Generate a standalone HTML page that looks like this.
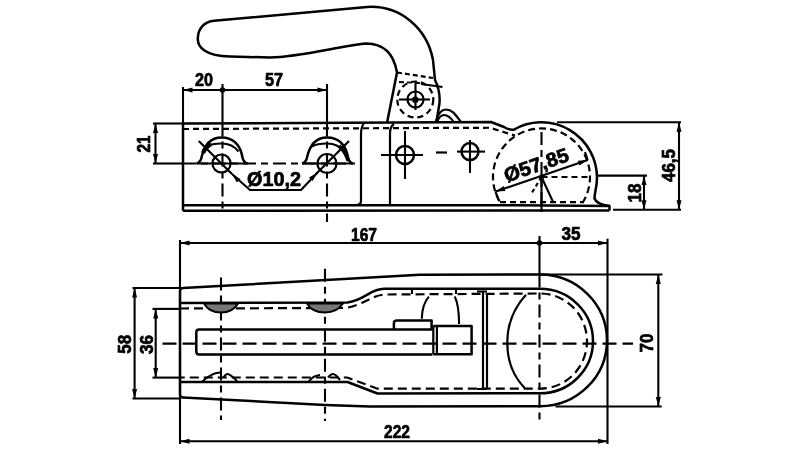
<!DOCTYPE html>
<html><head><meta charset="utf-8"><style>
html,body{margin:0;padding:0;background:#fff;width:800px;height:450px;overflow:hidden}
svg{display:block;will-change:transform}
text{font-family:"Liberation Sans",sans-serif;font-weight:bold;fill:#000;stroke:#000;stroke-width:0.7px}
</style></head><body>
<svg width="800" height="450" viewBox="0 0 800 450">
<rect width="800" height="450" fill="#fff"/>
<g stroke="#000" fill="none" stroke-linecap="butt" stroke-linejoin="round">
<path d="M387 123 L397 72.5 C394 55 385 43.5 366 43.5 C340 46 300 57 270 57.5 L230 56.5 C205 56 197.5 47 197.8 38.5 C198 28 205 21.5 214 20.8 L367 7 C400 5 427 28 433 60 L435 80 C439 88 440 96 439.5 103 L436.5 122" stroke-width="2.5" fill="none"/>
<line x1="397" y1="72.5" x2="433" y2="78" stroke-width="2.2" stroke-dasharray="5 3"/>
<circle cx="415.3" cy="99.5" r="18" stroke-width="2.2" fill="none" stroke-dasharray="6 4"/>
<circle cx="415.5" cy="99.5" r="8" stroke-width="2.2" fill="none"/>
<line x1="399" y1="99.5" x2="430" y2="99.5" stroke-width="2.1"/>
<line x1="415.5" y1="82.5" x2="415.5" y2="110" stroke-width="2.1"/>
<circle cx="415.3" cy="99.7" r="3.2" fill="#000" stroke="none"/>
<line x1="421" y1="84" x2="442.5" y2="87" stroke-width="2.1"/>
<line x1="399" y1="82" x2="420" y2="83" stroke-width="1.8" stroke-dasharray="5 3"/>
<path d="M435.6 122 C438 113 441 109.5 446 109.5 C452 109.5 455 114 461 122" stroke-width="2.2" fill="none"/>
<path d="M437 122 C439 117 441 115 444 115 C448 115 451 118 453.7 122" stroke-width="2.2" fill="none"/>
<path d="M183 123.5 L491 122 L504 127 Q510 130.5 514 129.6 A55.5 55.5 0 0 1 597 178 C597 187 594.5 192 594.5 198.5 C596 203 602 205 609.5 206" stroke-width="2.5" fill="none"/>
<path d="M183 129 L490 127.75 L515 135.6" stroke-width="2.2" fill="none" stroke-dasharray="6 4"/>
<path d="M499.5 201.2 A48.5 48.5 0 1 1 583.5 201.2" stroke-width="2.2" fill="none" stroke-dasharray="7 4"/>
<line x1="183" y1="123.5" x2="183" y2="210.8" stroke-width="2.5"/>
<line x1="183" y1="205.3" x2="515" y2="205.2" stroke-width="2.5"/>
<line x1="183" y1="210.8" x2="609.5" y2="210.5" stroke-width="2.5"/>
<path d="M515 205.2 L609.5 206 L609.5 210.5" stroke-width="2.5" fill="none"/>
<line x1="500" y1="202.2" x2="584" y2="202.2" stroke-width="2.2" stroke-dasharray="6 4"/>
<path d="M364 123 C362 126 361 129 361 134 L361 201 C361 203 360 204.5 357 205" stroke-width="2.2" fill="none"/>
<path d="M394 124 C391 126 390 129 390 133 L390 205" stroke-width="2.2" fill="none"/>
<circle cx="221.5" cy="163.5" r="9" stroke-width="2.2" fill="none"/>
<path d="M196.5 163.5 Q200.5 162.5 201.5 157.5 C204.5 143.5 211.5 137.5 221.5 137.5 C233.5 137.5 240.5 145.5 242.5 157.5 Q243.5 162.5 247.5 163.5" stroke-width="2.5" fill="none"/>
<path d="M206.5 146.5 C211.5 143.5 216.5 143.5 221.5 143.5 C229.5 143.5 235.5 147.5 238.5 151.5" stroke-width="2.1" fill="none"/>
<line x1="196.5" y1="163.5" x2="247.5" y2="163.5" stroke-width="2.1"/>
<circle cx="327" cy="163.5" r="9.5" stroke-width="2.2" fill="none"/>
<path d="M302 163.5 Q306 162.5 307 157.5 C310 143.5 317 137.5 327 137.5 C339 137.5 346 145.5 348 157.5 Q349 162.5 353 163.5" stroke-width="2.5" fill="none"/>
<path d="M312 146.5 C317 143.5 322 143.5 327 143.5 C335 143.5 341 147.5 344 151.5" stroke-width="2.1" fill="none"/>
<line x1="302" y1="163.5" x2="353" y2="163.5" stroke-width="2.1"/>
<line x1="198.75" y1="141" x2="232" y2="174" stroke-width="2.1"/>
<path d="M203 153 C205 148 207 146 211 144" stroke-width="4.2" fill="none"/>
<path d="M339 146 C343 149 346 153 348.5 161" stroke-width="4.0" fill="none"/>
<line x1="349" y1="141" x2="316" y2="174" stroke-width="2.1"/>
<circle cx="405" cy="155" r="9" stroke-width="2.5" fill="none"/>
<line x1="381" y1="155" x2="423" y2="155" stroke-width="2.1"/>
<line x1="405" y1="131" x2="405" y2="179" stroke-width="2.1"/>
<circle cx="470" cy="151.6" r="8.5" stroke-width="2.5" fill="none"/>
<line x1="457" y1="151.6" x2="485" y2="151.6" stroke-width="2.1"/>
<line x1="470" y1="140" x2="470" y2="173" stroke-width="2.1"/>
<line x1="436" y1="152.5" x2="447" y2="152.5" stroke-width="2.2"/>
<line x1="153" y1="163.5" x2="183" y2="163.5" stroke-width="2.1"/>
<line x1="183" y1="163.5" x2="355" y2="163.5" stroke-width="2.1" stroke-dasharray="13 5 7 5"/>
<line x1="222.5" y1="84" x2="222.5" y2="123.5" stroke-width="2.1"/>
<line x1="222.5" y1="123.5" x2="222.5" y2="211" stroke-width="2.1" stroke-dasharray="13 5 7 5"/>
<line x1="327" y1="84" x2="327" y2="123.5" stroke-width="2.1"/>
<line x1="327" y1="123.5" x2="327" y2="222" stroke-width="2.1" stroke-dasharray="13 5 7 5"/>
<path d="M232 174 L250 190 L301 190 L317.5 172.5" stroke-width="2.1" fill="none"/>
<path d="M232.0 174.0 L240.5 178.9 L236.9 182.5 Z" fill="#000" stroke="none"/>
<path d="M317.5 172.5 L312.6 181.0 L309.0 177.4 Z" fill="#000" stroke="none"/>
<text x="274" y="186.2" font-size="19.5" text-anchor="middle" textLength="54" lengthAdjust="spacingAndGlyphs">Ø10,2</text>
<line x1="183" y1="87" x2="183" y2="123.5" stroke-width="2.1"/>
<line x1="183" y1="90" x2="327" y2="90" stroke-width="2.1"/>
<path d="M183.0 90.0 L192.5 87.5 L192.5 92.5 Z" fill="#000" stroke="none"/>
<path d="M327.0 90.0 L317.5 92.5 L317.5 87.5 Z" fill="#000" stroke="none"/>
<circle cx="222.5" cy="90" r="2.8" fill="#000" stroke="none"/>
<text x="204" y="86" font-size="18" text-anchor="middle" textLength="18" lengthAdjust="spacingAndGlyphs">20</text>
<text x="274" y="86" font-size="18" text-anchor="middle" textLength="18" lengthAdjust="spacingAndGlyphs">57</text>
<line x1="153" y1="123.5" x2="183" y2="123.5" stroke-width="2.1"/>
<line x1="155.5" y1="123.5" x2="155.5" y2="163.5" stroke-width="2.1"/>
<path d="M155.5 123.5 L158.0 133.0 L153.0 133.0 Z" fill="#000" stroke="none"/>
<path d="M155.5 163.5 L153.0 154.0 L158.0 154.0 Z" fill="#000" stroke="none"/>
<text x="150" y="144" font-size="18" text-anchor="middle" textLength="17" lengthAdjust="spacingAndGlyphs" transform="rotate(-90 150 144)">21</text>
<line x1="495.5" y1="191.6" x2="587.7" y2="160" stroke-width="2.1"/>
<path d="M495.5 191.6 L503.7 186.1 L505.3 190.9 Z" fill="#000" stroke="none"/>
<path d="M587.7 160.0 L579.5 165.5 L577.9 160.7 Z" fill="#000" stroke="none"/>
<line x1="495.5" y1="191.6" x2="499" y2="201" stroke-width="2.1"/>
<line x1="587.7" y1="160" x2="585" y2="152" stroke-width="2.1"/>
<text x="538.5" y="171.5" font-size="20" text-anchor="middle" textLength="67" lengthAdjust="spacingAndGlyphs" transform="rotate(-19 538.5 171.5)">Ø57,85</text>
<line x1="541.5" y1="177" x2="589" y2="177" stroke-width="2.2" stroke-dasharray="6 4"/>
<line x1="541.5" y1="132" x2="541.5" y2="212" stroke-width="2.1" stroke-dasharray="13 5 7 5"/>
<line x1="541.5" y1="177" x2="541.5" y2="210" stroke-width="2.1"/>
<line x1="541.5" y1="177" x2="553.2" y2="202.2" stroke-width="2.1"/>
<line x1="541.5" y1="177" x2="530.7" y2="194.7" stroke-width="2.1" stroke-dasharray="4 3"/>
<circle cx="541.5" cy="177" r="2.5" fill="#000" stroke="none"/>
<line x1="557" y1="122.3" x2="681" y2="122.3" stroke-width="2.1"/>
<line x1="679" y1="122.3" x2="679" y2="209.7" stroke-width="2.1"/>
<path d="M679.0 122.3 L681.5 131.8 L676.5 131.8 Z" fill="#000" stroke="none"/>
<path d="M679.0 209.7 L676.5 200.2 L681.5 200.2 Z" fill="#000" stroke="none"/>
<line x1="613" y1="209.7" x2="681" y2="209.7" stroke-width="2.1"/>
<line x1="597" y1="175.6" x2="647" y2="175.6" stroke-width="2.1"/>
<line x1="644" y1="175.6" x2="644" y2="209.7" stroke-width="2.1"/>
<path d="M644.0 175.6 L646.5 185.1 L641.5 185.1 Z" fill="#000" stroke="none"/>
<path d="M644.0 209.7 L641.5 200.2 L646.5 200.2 Z" fill="#000" stroke="none"/>
<text x="675" y="165.5" font-size="18" text-anchor="middle" textLength="33" lengthAdjust="spacingAndGlyphs" transform="rotate(-90 675 165.5)">46,5</text>
<text x="640.5" y="193" font-size="18" text-anchor="middle" textLength="19" lengthAdjust="spacingAndGlyphs" transform="rotate(-90 640.5 193)">18</text>
<path d="M180 291 Q180 288 183 288 L420 274.8 L540 274.5 A67 65.9 0 0 1 540 406.3 L370 406.5 L325 405 L183 397.5 Q180 397.5 180 394.5 Z" stroke-width="2.5" fill="none"/>
<path d="M180 303 L347.5 302.5 C365 300 370 289 384 288.8 L540 288.8 A53 52.25 0 0 1 540 393.3 L377.5 393.5 L347.5 382 L180 382" stroke-width="2.5" fill="none"/>
<path d="M180 308.5 L345 308 C362 306 372 294.5 386 294.5 L540 293.5 A47 47.6 0 0 1 540 388.7 L377.5 388.7 L347 377.5 L180 377.5" stroke-width="2.2" fill="none" stroke-dasharray="9 5"/>
<line x1="180" y1="240" x2="180" y2="444" stroke-width="2.1"/>
<line x1="607.5" y1="238.7" x2="607.5" y2="444" stroke-width="2.1"/>
<line x1="180" y1="243" x2="607.5" y2="243" stroke-width="2.1"/>
<path d="M180.0 243.0 L189.5 240.5 L189.5 245.5 Z" fill="#000" stroke="none"/>
<path d="M607.5 243.0 L598.0 245.5 L598.0 240.5 Z" fill="#000" stroke="none"/>
<circle cx="539.5" cy="243" r="2.8" fill="#000" stroke="none"/>
<line x1="539.5" y1="236" x2="539.5" y2="274.5" stroke-width="2.1"/>
<line x1="539.5" y1="274.5" x2="539.5" y2="424" stroke-width="2.1" stroke-dasharray="13 5 7 5"/>
<text x="364" y="241" font-size="19" text-anchor="middle" textLength="26" lengthAdjust="spacingAndGlyphs">167</text>
<text x="571" y="240" font-size="18" text-anchor="middle" textLength="19" lengthAdjust="spacingAndGlyphs">35</text>
<line x1="180" y1="441.2" x2="607.5" y2="441.2" stroke-width="2.1"/>
<path d="M180.0 441.2 L189.5 438.7 L189.5 443.7 Z" fill="#000" stroke="none"/>
<path d="M607.5 441.2 L598.0 443.7 L598.0 438.7 Z" fill="#000" stroke="none"/>
<text x="397" y="437.5" font-size="19" text-anchor="middle" textLength="26" lengthAdjust="spacingAndGlyphs">222</text>
<line x1="132.5" y1="288" x2="180" y2="288" stroke-width="2.1"/>
<line x1="132.5" y1="398.5" x2="180" y2="398.5" stroke-width="2.1"/>
<line x1="134.6" y1="288" x2="134.6" y2="398.5" stroke-width="2.1"/>
<path d="M134.6 288.0 L137.1 297.5 L132.1 297.5 Z" fill="#000" stroke="none"/>
<path d="M134.6 398.5 L132.1 389.0 L137.1 389.0 Z" fill="#000" stroke="none"/>
<line x1="152.5" y1="308.9" x2="180" y2="308.9" stroke-width="2.1"/>
<line x1="152.5" y1="377.6" x2="180" y2="377.6" stroke-width="2.1"/>
<line x1="155.7" y1="308.9" x2="155.7" y2="377.6" stroke-width="2.1"/>
<path d="M155.7 308.9 L158.2 318.4 L153.2 318.4 Z" fill="#000" stroke="none"/>
<path d="M155.7 377.6 L153.2 368.1 L158.2 368.1 Z" fill="#000" stroke="none"/>
<text x="131" y="344.3" font-size="18" text-anchor="middle" textLength="19" lengthAdjust="spacingAndGlyphs" transform="rotate(-90 131 344.3)">58</text>
<text x="153.3" y="344.5" font-size="18" text-anchor="middle" textLength="19" lengthAdjust="spacingAndGlyphs" transform="rotate(-90 153.3 344.5)">36</text>
<line x1="555.5" y1="406.5" x2="661.7" y2="406.5" stroke-width="2.1"/>
<line x1="540" y1="274.5" x2="662.5" y2="274.5" stroke-width="2.1"/>
<line x1="658.3" y1="274.5" x2="658.3" y2="406.5" stroke-width="2.1"/>
<path d="M658.3 274.5 L660.8 284.0 L655.8 284.0 Z" fill="#000" stroke="none"/>
<path d="M658.3 406.5 L655.8 397.0 L660.8 397.0 Z" fill="#000" stroke="none"/>
<text x="653" y="343" font-size="18" text-anchor="middle" textLength="19" lengthAdjust="spacingAndGlyphs" transform="rotate(-90 653 343)">70</text>
<line x1="162.5" y1="343.6" x2="633" y2="343.6" stroke-width="2.2" stroke-dasharray="14 6"/>
<line x1="221" y1="277.5" x2="221" y2="420" stroke-width="2.1" stroke-dasharray="13 5 7 5"/>
<line x1="325" y1="268.7" x2="325" y2="421" stroke-width="2.1" stroke-dasharray="13 5 7 5"/>
<path d="M432.4 329.5 L199 329.5 Q196.3 329.5 196.3 332.3 L196.3 351.5 Q196.3 354.5 199 354.5 L432.4 354.5" stroke-width="2.5" fill="none"/>
<path d="M393.9 329.5 L393.9 323 Q394 320.6 397 320.6 L431.6 320.6 L431.6 329.5" stroke-width="2.5" fill="none"/>
<line x1="433.3" y1="326" x2="433.3" y2="354.3" stroke-width="2.2"/>
<line x1="436.9" y1="326" x2="436.9" y2="354.3" stroke-width="2.2"/>
<path d="M433.3 325.9 L471.6 325.9 L471.6 354.3 L433.3 354.3" stroke-width="2.5" fill="none"/>
<path d="M428.9 296.6 C424 302 422 310 421.8 318.8" stroke-width="2.1" fill="none"/>
<path d="M454.7 296.6 C458 303 459 312 459.1 324" stroke-width="2.1" fill="none"/>
<line x1="483" y1="291" x2="483" y2="389" stroke-width="2.2"/>
<line x1="487" y1="294" x2="487" y2="389" stroke-width="2.2"/>
<line x1="477" y1="291.5" x2="487" y2="291.5" stroke-width="2.1"/>
<line x1="477" y1="389" x2="487" y2="389" stroke-width="2.1"/>
<line x1="412" y1="288.5" x2="412" y2="294" stroke-width="2.1"/>
<line x1="456" y1="288.5" x2="456" y2="294" stroke-width="2.1"/>
<path d="M526 294.7 C512 310 507.3 326 507.3 342.7 C507.3 360 512 375 524.7 388" stroke-width="2.2" fill="none"/>
<path d="M204 303.5 Q209 312.5 221 312.5 Q233 312.5 238 303.5 Z" stroke-width="2.0" fill="#777"/>
<path d="M307 303.5 Q312 312.5 325 312.5 Q337 312.5 343 303.5 Z" stroke-width="2.0" fill="#777"/>
<path d="M202.5 381.5 C208 376 213 373 220 372.5" stroke-width="2.1" fill="none"/>
<path d="M223.5 377.5 C225 375 226 374 227.5 374 C230 374 232 376 237 381" stroke-width="2.1" fill="none"/>
<path d="M308.7 381.5 C312 377 315 375.5 320 375" stroke-width="2.1" fill="none"/>
<path d="M328 377.5 C330 375 331 374 333 374 C335 374 337 376 340 380" stroke-width="2.1" fill="none"/>
</g>
</svg>
</body></html>
